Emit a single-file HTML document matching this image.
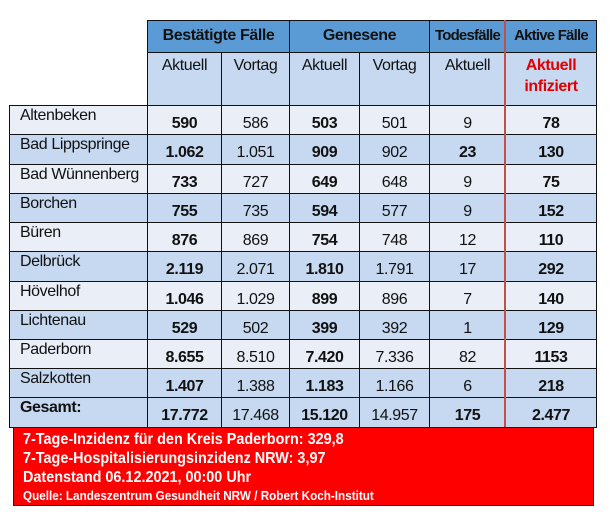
<!DOCTYPE html>
<html><head><meta charset="utf-8">
<style>
body{margin:0;width:610px;height:519px;background:#fff;position:relative;overflow:hidden;font-family:"Liberation Sans",Arial,sans-serif;}
.c{position:absolute;box-sizing:border-box;border:1px solid #111;color:#111;font-size:16px;text-align:center;letter-spacing:-0.4px;}
.h{background:#5b9bd5;font-weight:bold;font-size:16px;line-height:30px;}
.s{background:#c6d9f1;padding-top:2px;line-height:21px;}
.b{font-weight:bold;}
#redline{position:absolute;left:504px;top:20px;width:2px;height:407px;background:#c0504d;}
#box{position:absolute;left:13px;top:427px;width:581px;height:79px;background:#ff0000;border:1px solid #600;box-sizing:border-box;color:#fff;font-weight:bold;padding:2px 0 0 9px;}
#box div{font-size:16px;line-height:19px;transform:scaleX(0.9);transform-origin:left;white-space:nowrap;}
</style></head><body>
<div id="grid"></div>
<div id="redline"></div>
<div id="box">
<div>7-Tage-Inzidenz für den Kreis Paderborn: 329,8</div>
<div>7-Tage-Hospitalisierungsinzidenz NRW: 3,97</div>
<div>Datenstand 06.12.2021, 00:00 Uhr</div>
<div style="font-size:13px;line-height:17px;">Quelle: Landeszentrum Gesundheit NRW / Robert Koch-Institut</div>
</div>
<script>
const names=["Altenbeken","Bad Lippspringe","Bad Wünnenberg","Borchen","Büren","Delbrück","Hövelhof","Lichtenau","Paderborn","Salzkotten","Gesamt:"];
const bestAkt=["590","1.062","733","755","876","2.119","1.046","529","8.655","1.407","17.772"];
const bestVor=["586","1.051","727","735","869","2.071","1.029","502","8.510","1.388","17.468"];
const genAkt=["503","909","649","594","754","1.810","899","399","7.420","1.183","15.120"];
const genVor=["501","902","648","577","748","1.791","896","392","7.336","1.166","14.957"];
const tod=["9","23","9","9","12","17","7","1","82","6","175"];
const aktiv=["78","130","75","152","110","292","140","129","1153","218","2.477"];
const boldTod=[false,true,false,false,false,false,false,false,false,false,true];
const g=document.getElementById('grid');
const xs=[147,221,289,359,429,505,596];
const rowY=[105,134,164,193,222,251,281,310,339,368,397,427];
function cell(x,y,w,h,txt,cls,name){
  const d=document.createElement('div');
  d.className='c '+cls;
  d.style.left=x+'px';d.style.top=y+'px';d.style.width=(w+1)+'px';d.style.height=(h+1)+'px';
  d.innerHTML=txt;
  
  
  g.appendChild(d);return d;
}
cell(147,20,142,33,'Bestätigte Fälle','h','header-bestaetigte');
cell(289,20,140,33,'Genesene','h','header-genesene');
cell(429,20,76,33,'<span style="font-size:15px;letter-spacing:-0.8px">Todesfälle</span>','h','header-todesfaelle');
cell(505,20,91,33,'<span style="font-size:15px;letter-spacing:-0.8px">Aktive Fälle</span>','h','header-aktive');
const subs=["Aktuell","Vortag","Aktuell","Vortag","Aktuell",'<b style="color:#e00000;font-size:16px">Aktuell<br>infiziert</b>'];
for(let i=0;i<6;i++){cell(xs[i],52,xs[i+1]-xs[i],53,subs[i],'s','subheader-'+i);}
const cols=[bestAkt,bestVor,genAkt,genVor,tod,aktiv];
for(let r=0;r<names.length;r++){
  const y=rowY[r],h=rowY[r+1]-rowY[r];
  const bg=(r%2===1||r===10)?'#c6d9f1':'#e9eef7';
  const n=cell(9,y,138,h,names[r],r===10?'b':'','row-name-'+r);
  n.style.background=bg;n.style.textAlign='left';n.style.paddingLeft='10px';n.style.lineHeight='20px';
  for(let c=0;c<6;c++){
    const bold=(c===0||c===2||c===5||(c===4&&boldTod[r]));
    const d=cell(xs[c],y,xs[c+1]-xs[c],h,cols[c][r],bold?'b':'','cell-'+r+'-'+c);
    d.style.background=bg;d.style.lineHeight=(h+6)+'px';
  }
}
</script>
</body></html>
